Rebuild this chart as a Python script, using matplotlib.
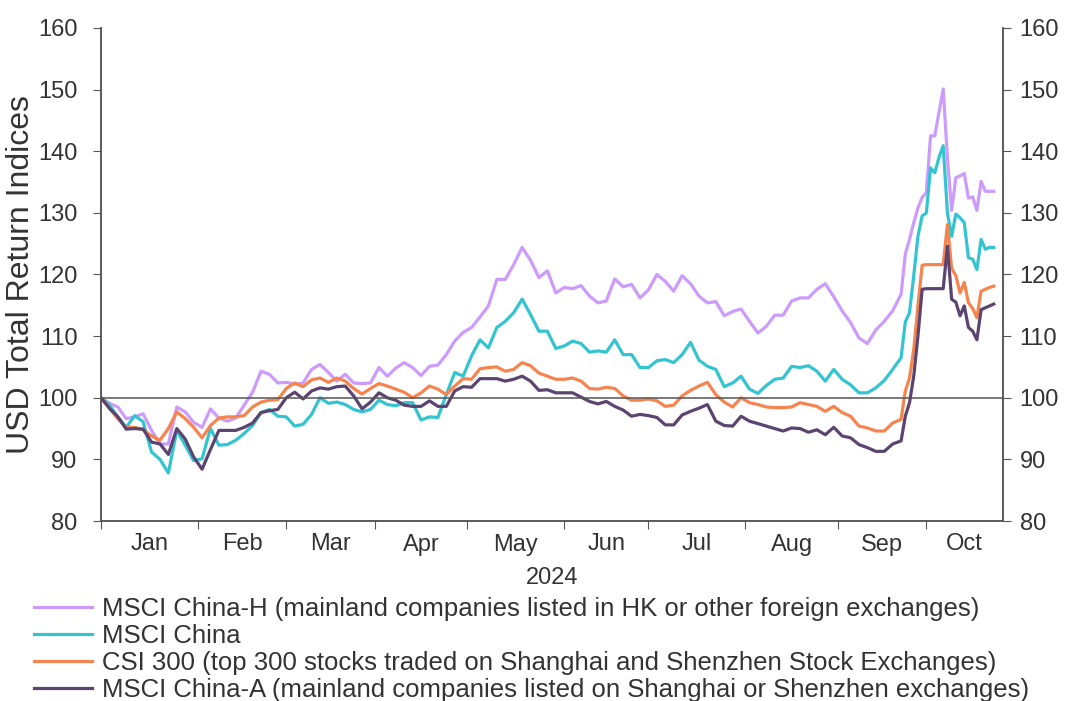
import matplotlib
matplotlib.use("Agg")
import matplotlib.pyplot as plt
import numpy as np
import pandas as pd

plt.rcParams['font.family'] = ['Liberation Sans', 'DejaVu Sans']
plt.rcParams['text.color'] = '#333333'
plt.rcParams['axes.labelcolor'] = '#333333'
plt.rcParams['xtick.labelcolor'] = '#333333'
plt.rcParams['ytick.labelcolor'] = '#333333'

# business-day positions (0 = 1 Jan 2024), every 2nd day, then daily from late Sep
day_idx = list(range(0, 190, 2)) + list(range(190, 213))

china_h = [
    100.0, 99.1, 98.5, 96.6, 96.9, 97.4, 94.7, 92.5, 92.5, 98.5,
    97.7, 96.0, 95.2, 98.2, 96.7, 96.2, 96.7, 98.8, 100.9, 104.3,
    103.8, 102.4, 102.5, 102.2, 102.4, 104.6, 105.4, 104.1, 102.7, 103.8,
    102.4, 102.3, 102.4, 104.9, 103.5, 104.8, 105.7, 104.9, 103.6, 105.1,
    105.3, 107.0, 109.2, 110.6, 111.4, 113.1, 114.9, 119.2, 119.2, 121.6,
    124.4, 122.3, 119.5, 120.6, 117.0, 117.9, 117.7, 118.2, 116.5, 115.4,
    115.7, 119.3, 118.0, 118.4, 116.2, 117.5, 120.0, 118.9, 117.3, 119.8,
    118.5, 116.5, 115.4, 115.6, 113.3, 114.0, 114.4, 112.4, 110.5, 111.6,
    113.4, 113.4, 115.7, 116.2, 116.2, 117.6, 118.5, 116.4, 114.1, 112.2,
    109.7, 108.8, 111.0, 112.4, 114.1,
    116.8, 123.3, 125.7, 128.4, 130.8, 132.5, 133.3, 142.5, 142.5, 146.3,
    150.1, 139.0, 130.4, 135.7, 136.0, 136.4, 132.4, 132.6, 130.4, 135.1,
    133.5, 133.5, 133.5,
]

msci_china = [
    100.0, 98.8, 96.9, 95.2, 97.1, 96.1, 91.2, 90.0, 87.8, 94.7,
    92.3, 89.8, 90.1, 95.0, 92.3, 92.4, 93.1, 94.2, 95.5, 97.6,
    98.1, 97.0, 96.9, 95.4, 95.7, 97.3, 100.0, 99.1, 99.3, 98.9,
    98.1, 97.7, 98.1, 99.6, 98.9, 98.7, 99.2, 99.2, 96.4, 96.9,
    96.8, 100.5, 104.1, 103.5, 106.8, 109.4, 108.1, 111.4, 112.4, 113.8,
    116.0, 113.5, 110.8, 110.8, 108.0, 108.4, 109.2, 108.8, 107.4, 107.6,
    107.4, 109.4, 107.0, 107.0, 104.9, 104.9, 106.0, 106.2, 105.7, 107.0,
    109.0, 106.1, 105.1, 104.6, 101.8, 102.4, 103.5, 101.4, 100.7, 102.0,
    103.0, 103.2, 105.1, 104.9, 105.2, 104.3, 102.7, 104.6, 103.0, 102.1,
    100.8, 100.8, 101.6, 102.8, 104.6,
    106.5, 112.3, 113.8, 119.8, 126.2, 129.5, 130.0, 137.3, 136.5, 139.0,
    140.9, 130.0, 126.2, 129.8, 129.2, 128.4, 122.7, 122.5, 120.8, 125.7,
    124.1, 124.4, 124.4,
]

csi_300 = [
    100.0, 98.3, 96.6, 95.2, 95.2, 94.8, 93.8, 93.1, 95.0, 97.7,
    96.6, 95.2, 93.5, 95.5, 96.7, 96.9, 96.9, 97.1, 98.5, 99.3,
    99.6, 99.7, 101.5, 102.4, 101.8, 102.9, 103.2, 102.5, 103.2, 102.7,
    101.5, 100.6, 101.5, 102.3, 101.9, 101.4, 100.9, 100.0, 100.8, 101.9,
    101.4, 100.5, 101.9, 103.1, 103.0, 104.7, 104.9, 105.0, 104.3, 104.6,
    105.7, 105.2, 104.0, 103.5, 103.0, 103.0, 103.2, 102.7, 101.5, 101.4,
    101.7, 101.5, 100.3, 99.6, 99.6, 99.8, 99.5, 98.6, 98.8, 100.3,
    101.2, 101.9, 102.5, 100.5, 99.3, 98.5, 100.0, 99.2, 98.9, 98.5,
    98.4, 98.4, 98.5, 99.2, 98.9, 98.6, 97.8, 98.6, 97.6, 97.0,
    95.4, 95.1, 94.6, 94.6, 95.9,
    96.5, 101.1, 103.2, 107.8, 114.9, 121.5, 121.6, 121.6, 121.6, 121.6,
    121.6, 128.1, 121.0, 119.8, 117.0, 118.7, 115.4, 114.5, 113.0, 117.3,
    117.6, 117.9, 118.1,
]

china_a = [
    100.0, 98.3, 96.9, 94.9, 95.0, 94.9, 92.8, 92.5, 90.8, 95.0,
    93.3, 90.4, 88.4, 91.6, 94.7, 94.7, 94.7, 95.2, 95.9, 97.6,
    97.9, 98.1, 100.0, 100.9, 99.8, 101.1, 101.6, 101.4, 101.8, 101.9,
    100.3, 98.2, 99.3, 100.8, 100.0, 99.6, 98.8, 98.6, 98.6, 99.5,
    98.6, 98.6, 101.1, 101.8, 101.7, 103.1, 103.1, 103.1, 102.7, 103.0,
    103.5, 102.7, 101.2, 101.3, 100.8, 100.8, 100.8, 100.1, 99.4, 99.0,
    99.4, 98.6, 98.0, 97.0, 97.3, 97.1, 96.8, 95.6, 95.6, 97.2,
    97.8, 98.3, 98.9, 96.2, 95.5, 95.4, 97.0, 96.2, 95.8, 95.4,
    95.0, 94.6, 95.1, 95.0, 94.4, 94.8, 94.0, 95.2, 93.8, 93.5,
    92.4, 91.9, 91.3, 91.3, 92.5,
    93.0, 97.0, 99.2, 103.5, 110.0, 117.6, 117.7, 117.7, 117.7, 117.7,
    117.7, 124.6, 116.0, 115.5, 113.3, 114.9, 111.4, 110.8, 109.4, 114.3,
    114.6, 114.9, 115.2,
]

labels = [
    "MSCI China-H (mainland companies listed in HK or other foreign exchanges)",
    "MSCI China",
    "CSI 300 (top 300 stocks traded on Shanghai and Shenzhen Stock Exchanges)",
    "MSCI China-A (mainland companies listed on Shanghai or Shenzhen exchanges)",
]
colors = ["#CC9BFB", "#33C4D2", "#F5844E", "#5B4570"]

# business-day calendar used for the x axis
dates = pd.bdate_range("2024-01-01", periods=216)
x_end = 214.2
month_starts = [i for i in range(len(dates)) if i == 0 or dates[i].month != dates[i - 1].month]
month_starts = [m for m in month_starts if m < x_end]
month_names = [dates[m].strftime("%b") for m in month_starts]
bounds = month_starts + [x_end]
month_mid = [(bounds[k] + bounds[k + 1]) / 2 for k in range(len(month_starts))]

fig = plt.figure(figsize=(10.66, 7.01), dpi=100)
ax = fig.add_axes([101 / 1066, 1 - 521 / 701, (1003 - 101) / 1066, (521 - 28) / 701])

for series, lab, col in zip([china_h, msci_china, csi_300, china_a], labels, colors):
    ax.plot(day_idx, series, color=col, lw=2.3, label=lab, solid_joinstyle="round")

ax.axhline(100, color="#555555", lw=1.1, zorder=5)

ax.set_xlim(0, x_end)
ax.set_ylim(80, 160)
ax.set_yticks(np.arange(80, 161, 10))
ax.tick_params(axis="y", direction="out", length=6, pad=11, labelsize=17, color="#555555")

# right-hand copy of the value axis
ax_r = ax.twinx()
ax_r.set_ylim(80, 160)
ax_r.set_yticks(np.arange(80, 161, 10))
ax_r.tick_params(axis="y", direction="out", length=6, pad=6, labelsize=17, color="#555555")

ax.set_xticks(month_starts)
ax.set_xticklabels([])
ax.set_xticks(month_mid, minor=True)
ax.set_xticklabels(month_names, minor=True)
ax.tick_params(axis="x", which="major", direction="out", length=6, color="#555555")
ax.tick_params(axis="x", which="minor", length=0, labelsize=17, pad=9)
ax.set_xlabel("2024", fontsize=17, labelpad=8)
ax.set_ylabel("USD Total Return Indices", fontsize=23, labelpad=1)

for a in (ax, ax_r):
    for side in ["left", "right", "bottom"]:
        a.spines[side].set_color("#555555")
        a.spines[side].set_linewidth(1.1)
    a.spines["top"].set_visible(False)

ax.legend(loc="upper left", bbox_to_anchor=(0.0225, 0.163), bbox_transform=fig.transFigure,
          frameon=False, fontsize=18.5, handlelength=2.25, handletextpad=0.4,
          labelspacing=0.12, borderaxespad=0)

fig.savefig("out.png", dpi=100)
